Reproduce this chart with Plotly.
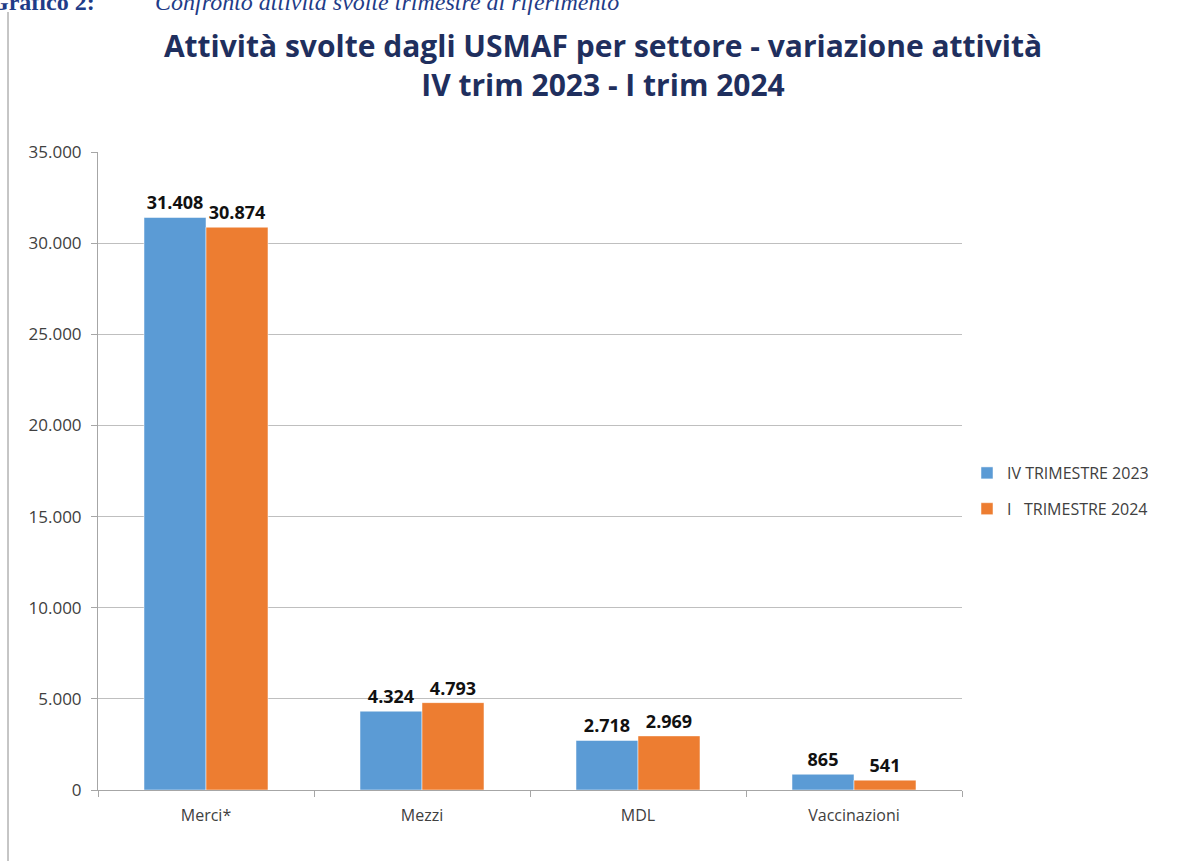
import plotly.graph_objects as go

categories = ["Merci*", "Mezzi", "MDL", "Vaccinazioni"]
series_names = ["IV TRIMESTRE 2023", "I   TRIMESTRE 2024"]
values_q4_2023 = [31408, 4324, 2718, 865]
values_q1_2024 = [30874, 4793, 2969, 541]
colors = ["#5B9BD5", "#ED7D31"]
y_ticks = [0, 5000, 10000, 15000, 20000, 25000, 30000, 35000]

W, H = 1179, 861
ML, MR, MT, MB = 98, 217, 152, 71
PW, PH = W - ML - MR, H - MT - MB
FONT = "Open Sans"

def px_x(px):
    return (px - ML) / PW

def px_y(py):
    return (H - MB - py) / PH

fig = go.Figure()
for i, (name, vals, col) in enumerate(zip(series_names, [values_q4_2023, values_q1_2024], colors)):
    fig.add_trace(go.Bar(
        x=categories, y=vals, name=name, legendgroup=f"g{i}",
        marker=dict(color=col, line=dict(color="white", width=0.5)),
        texttemplate="%{y:,d}", textposition="outside",
        textfont=dict(family=FONT, size=18, color="#111111", weight="bold"),
        cliponaxis=False,
    ))

fig.update_layout(
    width=W, height=H, autosize=False,
    margin=dict(l=ML, r=MR, t=MT, b=MB),
    paper_bgcolor="white", plot_bgcolor="white",
    separators=",.",
    barmode="group", bargap=0.426, bargroupgap=0,
    font=dict(family=FONT, size=16, color="#404040"),
    title=dict(
        text="Attività svolte dagli USMAF per settore - variazione attività<br>IV trim 2023 - I trim 2024",
        x=603 / W, xanchor="center", y=1 - 57 / H, yanchor="middle",
        font=dict(family=FONT, size=30, color="#1F2F5E", weight="bold"),
    ),
    legend=dict(
        x=px_x(967), y=px_y(491), xanchor="left", yanchor="middle",
        font=dict(family=FONT, size=16, color="#404040"), tracegroupgap=12,
    ),
    yaxis=dict(
        range=[0, 35000], tickvals=y_ticks, tickformat=",d",
        showgrid=True, gridcolor="#BFBFBF", gridwidth=1,
        showline=True, linecolor="#A6A6A6", linewidth=1,
        ticks="outside", ticklen=6, tickcolor="#A6A6A6", ticklabelstandoff=6,
        tickfont=dict(family=FONT, size=17, color="#404040"), zeroline=False,
    ),
    xaxis=dict(
        showline=True, linecolor="#A6A6A6", linewidth=1,
        ticks="outside", ticklen=6, tickcolor="#A6A6A6", tickson="boundaries",
        ticklabelstandoff=11,
        tickfont=dict(family=FONT, size=16, color="#404040"),
    ),
)

# vertical line at the left page border
fig.add_shape(type="line", xref="paper", yref="paper",
              x0=px_x(8), x1=px_x(8), y0=px_y(H), y1=px_y(12),
              line=dict(color="#8C8C8C", width=1))

# cut-off caption at top (as in the reference page crop)
fig.add_annotation(text="<b>Grafico 2:</b>", xref="paper", yref="paper",
                   x=px_x(97), y=px_y(2), xanchor="right", yanchor="middle",
                   showarrow=False,
                   font=dict(family="Liberation Serif", size=24, color="#1F3C88"))
fig.add_annotation(text="<i>Confronto attività svolte trimestre di riferimento</i>", xref="paper", yref="paper",
                   x=px_x(153), y=px_y(2), xanchor="left", yanchor="middle",
                   showarrow=False,
                   font=dict(family="Liberation Serif", size=24, color="#1F3C88"))

fig.write_html("out.html", config={"displayModeBar": False},
               post_script="document.body.style.margin='0px';")
